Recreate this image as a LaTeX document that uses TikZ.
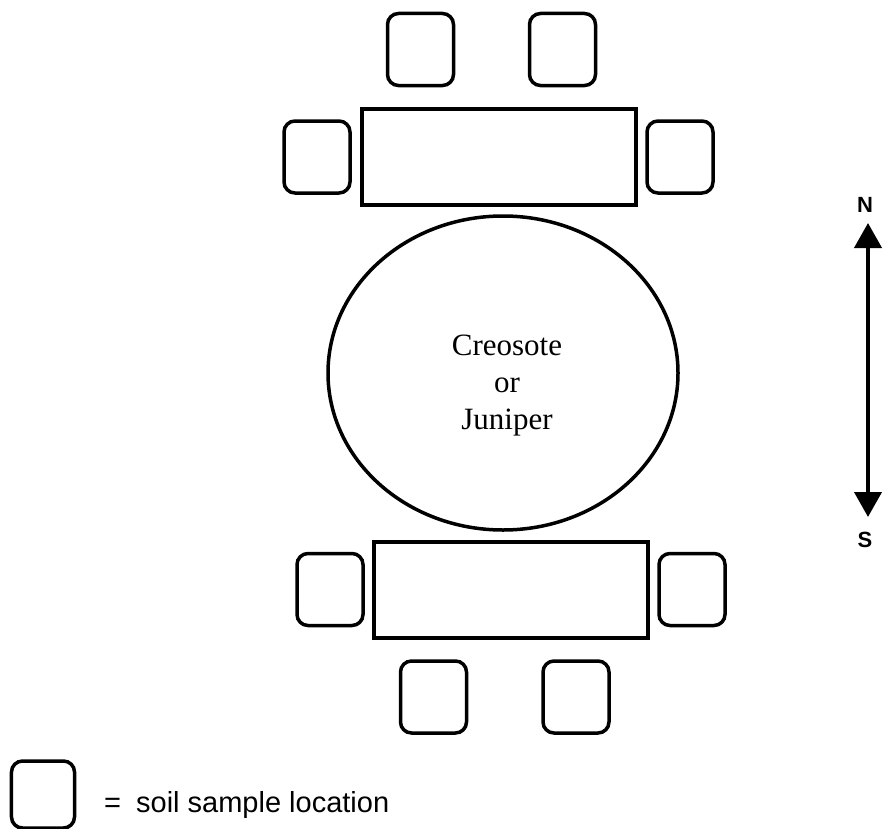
\documentclass[tikz,border=0pt]{standalone}
\usepackage{fontspec}
\setmainfont{Liberation Serif}
\setsansfont{Liberation Sans}
\usetikzlibrary{arrows.meta,shapes.geometric}
\tikzset{
  sample/.style={draw, line width=3.5bp, rounded corners=11bp, inner sep=0pt,
    minimum width=66bp, minimum height=72bp},
  plot/.style={draw, line width=3.5bp, inner sep=0pt,
    minimum width=274bp, minimum height=96bp},
  canopy/.style={draw, line width=3.5bp, ellipse, inner sep=0pt,
    minimum width=350bp, minimum height=314bp},
  compass/.style={font=\sffamily\bfseries\fontsize{22bp}{26bp}\selectfont, inner sep=0pt},
}
\begin{document}
\begin{tikzpicture}[x=1bp, y=-1bp]
\useasboundingbox (0,0) rectangle (883,829);
% north plot
\node[sample] (tn1) at (420.5,49.5) {};
\node[sample] (tn2) at (562.5,49.5) {};
\node[plot] (nplot) at (499,157) {};
\node[sample] (tw) at (317,157) {};
\node[sample] (te) at (680,157) {};
% canopy
\node[canopy] (tree) at (503,373) {};
\node[align=center, font=\fontsize{31bp}{37bp}\selectfont, inner sep=0pt] (treetext) at (507,386) {Creosote\\or\\Juniper};
% south plot
\node[plot] (splot) at (511,590) {};
\node[sample] (bw) at (330,589.5) {};
\node[sample] (be) at (692,589.5) {};
\node[sample] (bs1) at (433.5,697) {};
\node[sample] (bs2) at (576,697) {};
% legend
\node[sample, minimum width=63bp, minimum height=67bp] (legend) at (43,794.5) {};
\node[anchor=base west, inner sep=0pt, font=\sffamily\fontsize{29bp}{34bp}\selectfont] (legendtext) at (104,812) {=\hspace{15bp}soil sample location};
% compass
\node[compass] (N) at (865,205) {N};
\node[compass] (S) at (865,540) {S};
\coordinate (ntip) at (868,223);
\coordinate (stip) at (868,517);
\draw[line width=4bp, {Triangle[length=25bp,width=27bp]}-{Triangle[length=25bp,width=27bp]}] (ntip) -- (stip);
\end{tikzpicture}
\end{document}
